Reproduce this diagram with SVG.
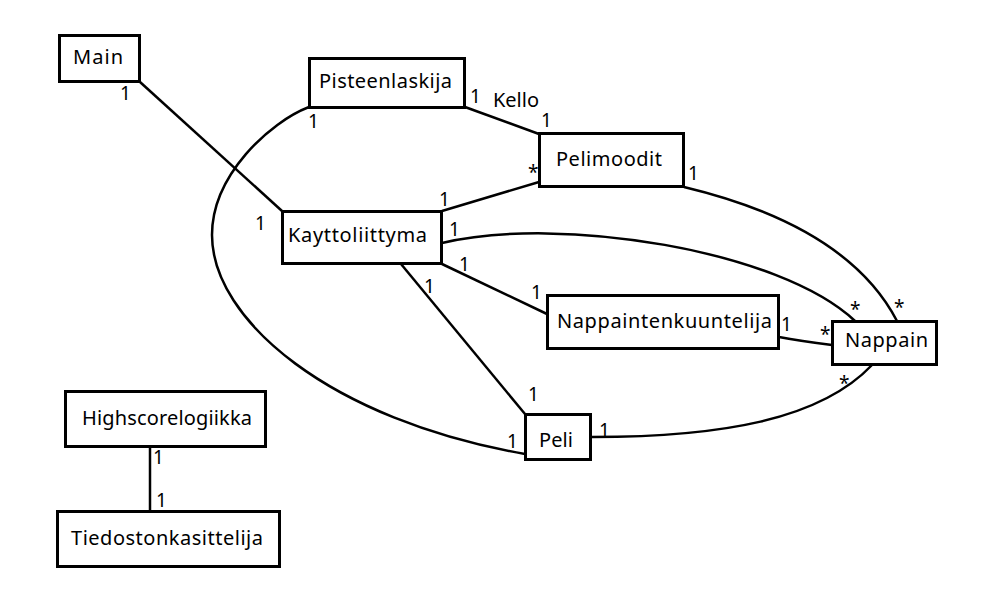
<svg xmlns="http://www.w3.org/2000/svg" width="983" height="609" viewBox="0 0 983 609">
<style>
.box{fill:#fff;stroke:#000;stroke-width:3}
.name{font-family:"Noto Sans","Open Sans",sans-serif;font-size:20px;fill:#000}
.lab{font-family:"Noto Sans","Open Sans",sans-serif;font-size:19px;fill:#000}
.con{fill:none;stroke:#000;stroke-width:2.5}
</style>
<rect width="983" height="609" fill="#fff"/>
<g id="connectors">
<line class="con" x1="140" y1="82" x2="282" y2="211"/>
<path class="con" d="M309,107 C270,122 212,175 212,235 C212,320 330,420 525,454"/>
<line class="con" x1="465" y1="107" x2="539" y2="134"/>
<line class="con" x1="442" y1="211" x2="539" y2="182"/>
<path class="con" d="M684,187 C780,210 860,250 897,321"/>
<path class="con" d="M442,243 C560,215 780,250 855,321"/>
<line class="con" x1="442" y1="264" x2="547" y2="314"/>
<line class="con" x1="401" y1="264" x2="525" y2="414"/>
<path class="con" d="M779,337 Q800,341 832,345"/>
<path class="con" d="M592,437 C720,437 820,420 872,365"/>
<line class="con" x1="150" y1="446" x2="150" y2="511"/>
</g>
<g id="Main"><rect class="box" x="59.5" y="35.5" width="80" height="46"/><text class="name" x="73" y="64" textLength="50">Main</text></g>
<g id="Pisteenlaskija"><rect class="box" x="309.5" y="58.5" width="155" height="49"/><text class="name" x="319" y="88" textLength="133">Pisteenlaskija</text></g>
<g id="Pelimoodit"><rect class="box" x="539.5" y="133.5" width="144" height="53"/><text class="name" x="556" y="166" textLength="106">Pelimoodit</text></g>
<g id="Kayttoliittyma"><rect class="box" x="282.5" y="211.5" width="159" height="52"/><text class="name" x="288" y="242" textLength="139">Kayttoliittyma</text></g>
<g id="Nappaintenkuuntelija"><rect class="box" x="547.5" y="295.5" width="231" height="53"/><text class="name" x="557" y="328" textLength="215">Nappaintenkuuntelija</text></g>
<g id="Nappain"><rect class="box" x="832.5" y="321.5" width="104" height="43"/><text class="name" x="845" y="347" textLength="83">Nappain</text></g>
<g id="Peli"><rect class="box" x="525.5" y="414.5" width="65" height="45"/><text class="name" x="539" y="447" textLength="34">Peli</text></g>
<g id="Highscorelogiikka"><rect class="box" x="65.5" y="391.5" width="200" height="55"/><text class="name" x="82" y="425" textLength="170">Highscorelogiikka</text></g>
<g id="Tiedostonkasittelija"><rect class="box" x="57.5" y="511.5" width="222" height="55"/><text class="name" x="71" y="545" textLength="192">Tiedostonkasittelija</text></g>
<g id="labels">
<text class="lab" x="120" y="100">1</text>
<text class="lab" x="308" y="128">1</text>
<text class="lab" x="255" y="230">1</text>
<text class="lab" x="470" y="103">1</text>
<text class="name" x="493" y="107" textLength="46">Kello</text>
<text class="lab" x="541" y="127">1</text>
<text class="lab" x="528" y="179">*</text>
<text class="lab" x="439" y="206">1</text>
<text class="lab" x="449" y="236">1</text>
<text class="lab" x="688" y="180">1</text>
<text class="lab" x="459" y="271">1</text>
<text class="lab" x="424" y="293">1</text>
<text class="lab" x="531" y="299">1</text>
<text class="lab" x="781" y="331">1</text>
<text class="lab" x="820" y="341">*</text>
<text class="lab" x="850" y="316">*</text>
<text class="lab" x="894" y="314">*</text>
<text class="lab" x="839" y="390">*</text>
<text class="lab" x="528" y="401">1</text>
<text class="lab" x="507" y="448">1</text>
<text class="lab" x="599" y="437">1</text>
<text class="lab" x="153" y="464">1</text>
<text class="lab" x="156" y="507">1</text>
</g>
</svg>
